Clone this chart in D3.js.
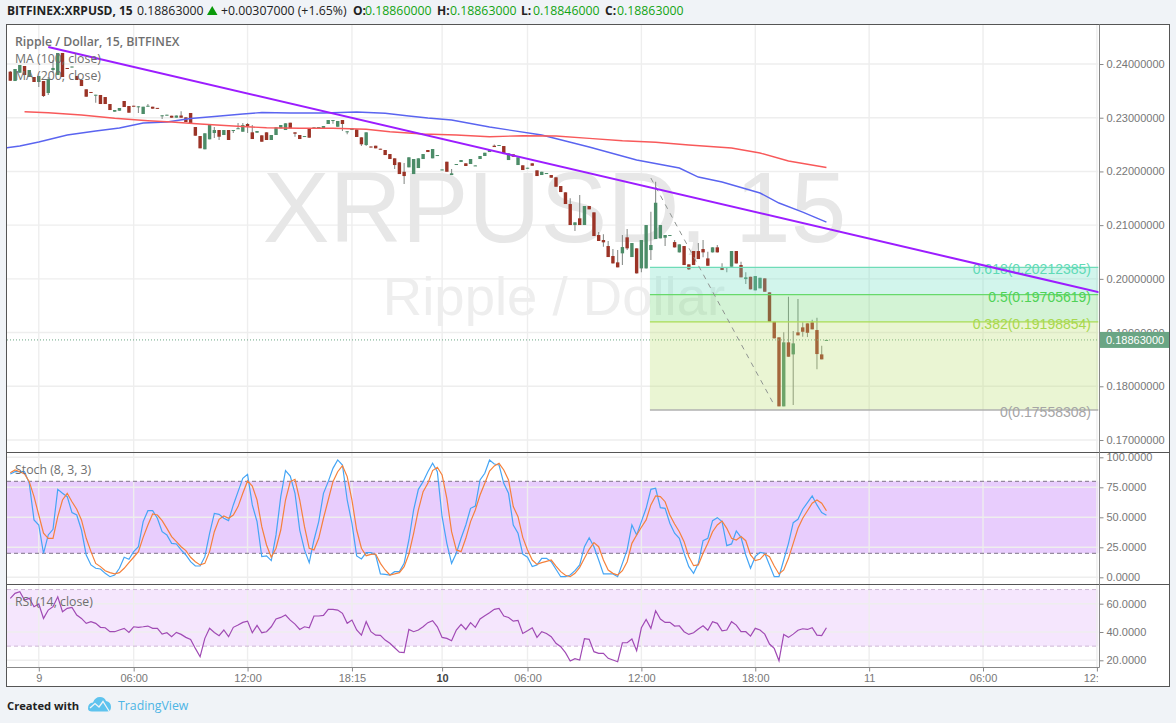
<!DOCTYPE html>
<html>
<head>
<meta charset="utf-8">
<script src="https://cdn.jsdelivr.net/npm/d3@7/dist/d3.min.js"></script>
<style>
html,body{margin:0;padding:0;background:#f0f3f7;overflow:hidden}
svg{display:block}
.ui{font-family:"Open Sans",sans-serif}
.ax{font-family:"Liberation Sans",Arial,sans-serif;font-size:11px;fill:#777}
</style>
</head>
<body>
<svg id="c" width="1176" height="723"></svg>
<script>
const opens=[.23857,.23683,.23838,.23963,.23758,.23758,.23665,.23683,.23460,.23888,.23795,.24205,.23926,.23935,.23777,.23702,.23529,.23479,.23413,.23423,.23385,.23255,.23112,.23130,.23311,.23218,.23223,.23199,.23069,.23210,.23205,.23183,.23032,.23043,.23037,.23000,.23041,.23007,.23088,.22827,
.22659,.22412,.22598,.22715,.22771,.22678,.22771,.22756,.22790,.22739,.22883,.22728,.22721,.22672,.22728,.22585,.22678,.22803,.22771,.22907,
.22728,.22678,.22644,.22790,.22803,.22803,.22803,.22883,.22942,.22832,.22957,.22728,.22771,.22784,.22635,.22492,.22464,.22479,.22423,.22399,
.22324,.22244,.22169,.21994,.22076,.21951,.22063,.22231,.22399,.22244,.22290,.22024,.22181,.21933,.22125,.22175,.22151,.22138,.22099,.22231,
.22287,.22361,.22479,.22479,.22473,.22212,.22318,.22119,.22114,.22056,.22151,.22020,.21933,.21957,.21933,.21890,.21728,.21611,.21393,.21002,
.21127,.21002,.21356,.21238,.20816,.20723,.20611,.20425,.20307,.20475,.20773,.20406,.20568,.20195,.20195,.20536,.20741,.20754,.20766,.20803,
.20685,.20493,.20611,.20270,.20518,.20518,.20555,.20381,.20493,.20587,.20220,.20207,.20225,.20518,.20257,.19996,.20039,.19786,.19823,.20009,
.19749,.19201,.18911,.17626,.18818,.18594,.19004,.19097,.19171,.19190,.19047,.18594,.18860];
const closes=[.23689,.23907,.23981,.23795,.23888,.23665,.23777,.23404,.23721,.23926,.24205,.23758,.23907,.23953,.23702,.23590,.23391,.23464,.23428,.23255,.23255,.23143,.23143,.23181,.23199,.23093,.23209,.23212,.23205,.23223,.23168,.23167,.23045,.23056,.23000,.23041,.23000,.22920,.22901,.22665,
.22430,.22710,.22864,.22771,.22646,.22771,.22585,.22771,.22804,.22864,.22845,.22603,.22752,.22553,.22585,.22678,.22821,.22864,.22896,.22803,
.22702,.22603,.22659,.22628,.22821,.22827,.22845,.22957,.22957,.22939,.22883,.22747,.22803,.22641,.22505,.22728,.22445,.22430,.22408,.22305,
.22231,.22119,.21951,.21914,.22263,.22231,.22244,.22324,.22361,.22417,.22305,.22037,.21994,.21965,.22138,.22212,.22101,.22231,.22112,.22287,
.22348,.22399,.22454,.22492,.22324,.22337,.22274,.22263,.22026,.22069,.22106,.21914,.21994,.21970,.21883,.21715,.21616,.21393,.21002,.21052,
.21002,.21356,.21294,.20797,.20705,.20680,.20406,.20288,.20214,.20592,.20568,.20667,.20102,.20723,.21002,.20630,.21417,.21002,.20816,.20816,
.20586,.20642,.20257,.20177,.20257,.20369,.20493,.20244,.20587,.20493,.20164,.20220,.20518,.20287,.20028,.20028,.19805,.20052,.20020,.19760,
.19201,.18892,.17626,.18818,.18550,.18799,.18948,.19015,.18996,.19060,.18600,.18501,.18863];
const highs=[.23870,.23907,.23981,.23963,.23888,.23758,.23777,.23683,.23758,.24074,.24205,.24205,.23926,.23953,.23777,.23702,.23529,.23479,.23428,.23423,.23385,.23255,.23143,.23181,.23311,.23218,.23223,.23212,.23205,.23255,.23205,.23183,.23045,.23056,.23037,.23041,.23119,.23007,.23088,.22827,
.22659,.22710,.22864,.22827,.22771,.22771,.22771,.22771,.22901,.22901,.22901,.22864,.22752,.22672,.22728,.22678,.22821,.22864,.22896,.22907,
.22728,.22678,.22659,.22790,.22821,.22827,.22845,.22957,.22957,.22939,.22957,.22747,.22803,.22784,.22635,.22728,.22464,.22479,.22423,.22399,
.22324,.22244,.22169,.22156,.22263,.22231,.22244,.22324,.22399,.22417,.22305,.22037,.22181,.22045,.22138,.22212,.22151,.22231,.22112,.22287,
.22348,.22399,.22501,.22492,.22473,.22337,.22318,.22263,.22114,.22069,.22151,.22020,.21994,.21970,.21933,.21890,.21728,.21611,.21499,.21052,
.21560,.21356,.21356,.21238,.20872,.20829,.20704,.20555,.20536,.20816,.20927,.20667,.20568,.20723,.21002,.21250,.21808,.21002,.20816,.20816,
.20723,.20642,.20611,.20270,.20518,.20667,.20723,.20505,.20587,.20630,.20289,.20220,.20518,.20518,.20318,.20121,.20039,.20052,.20020,.20009,
.19749,.19201,.18911,.19004,.19667,.19028,.19623,.19190,.19171,.19240,.19276,.18754,.18863];
const lows=[.23684,.23683,.23838,.23795,.23758,.23665,.23572,.23385,.23423,.23832,.23795,.23758,.23907,.23935,.23702,.23590,.23391,.23464,.23279,.23255,.23255,.23143,.23112,.23130,.23199,.23093,.23209,.23088,.23069,.23210,.23168,.23167,.22976,.23043,.23000,.23000,.23000,.22920,.22883,.22665,
.22430,.22412,.22598,.22622,.22585,.22678,.22585,.22715,.22790,.22739,.22715,.22603,.22721,.22553,.22585,.22585,.22678,.22803,.22771,.22803,
.22646,.22603,.22644,.22628,.22803,.22803,.22803,.22883,.22888,.22832,.22752,.22691,.22771,.22641,.22473,.22473,.22445,.22430,.22408,.22305,
.22231,.22045,.21951,.21765,.22076,.21951,.22063,.22231,.22361,.22244,.22290,.22024,.21994,.21933,.22125,.22175,.22101,.22138,.22099,.22231,
.22287,.22361,.22454,.22479,.22324,.22212,.22274,.22119,.22026,.22056,.22106,.21914,.21933,.21957,.21883,.21715,.21616,.21393,.21002,.20890,
.21002,.21002,.21294,.20797,.20705,.20598,.20406,.20288,.20214,.20257,.20536,.20406,.20102,.20121,.20195,.20350,.20741,.20754,.20611,.20803,
.20586,.20493,.20257,.20164,.20257,.20369,.20400,.20244,.20493,.20493,.20164,.20121,.20225,.20287,.20028,.19903,.19805,.19786,.19823,.19760,
.19201,.18892,.17626,.17626,.18550,.17650,.18948,.18922,.18916,.19060,.18315,.18501,.18846];

const ma100Bars=[-1,2,6,12,18,23,28,33,38,43,49,53,59,66,73,79,84,88,93,101,112,122,132,141,145,150,158,162,167,170,172];
const ma100=[.22436,.22473,.22547,.22678,.22752,.22808,.22901,.22920,.22985,.23022,.23069,.23097,.23088,.23088,.23106,.23082,.23032,.22994,.22957,.22827,.22678,.22454,.22212,.22063,.21896,.21803,.21598,.21412,.21244,.21132,.21058];
const ma200Bars=[3,8,15,22,29,34,40,47,54,61,68,75,80,87,94,101,108,115,122,129,136,143,152,158,164,172];
const ma200=[.23112,.23093,.23050,.22989,.22944,.22920,.22883,.22845,.22814,.22803,.22803,.22784,.22739,.22696,.22678,.22646,.22665,.22659,.22616,.22572,.22542,.22492,.22436,.22343,.22194,.22073];

const stochK=[86.1,88,88,88,78.3,47.8,43.6,20,35.3,40,73.3,70,67.2,53.9,51.9,39.4,18.6,10.3,7.5,6.9,3.3,.5,1.9,7.5,16.7,15,21.4,25.5,46.4,55.5,55.5,49.2,38,35.3,28.3,27.8,22.8,18.6,13,9.4,9.4,17.2,36.7,53.3,52.5,49.2,47.2,60.3,71.4,82.5,85.8,60.3,46.4,17.2,17.8,13.9,35.3,67.2,88.9,84.4,70,39.4,22.8,12.2,31.1,46.4,70,79.7,90.8,97.8,93.6,64.4,45,17.8,15.3,20.5,20.5,18.6,2.8,2.5,1.9,4.7,4.7,11.6,31.1,56.1,73.3,79.7,88,95,88,50.5,28.3,11.6,20,32.5,43.6,57.5,59.4,81.1,86.7,97.8,94.4,93.6,78.3,70,43.6,36.7,19.4,16.7,8.9,10.3,15.8,15.8,13,6.7,.5,.5,1.9,5.5,10.3,25.5,33,25.5,14.4,2.8,2.8,2.8,.5,11.6,22.8,43.6,35.3,46.4,57.5,73.3,74.2,58,57.5,45,36.7,32.5,20,8.9,3.3,11.6,30.5,32.5,47.2,49.7,46.4,26.4,27.8,38.6,33.3,18.6,7.5,17.2,20.8,20,10.3,.5,.5,14.4,28.3,45.5,48.3,56.7,62.2,67.8,60.3,53.9,51.7];
const stochD=[87.2,89.4,88,86.1,79.7,67.2,51.9,36.7,32.5,32.5,50.5,64.4,70,63,56.7,47.8,32.5,21.4,11.6,8.9,5.5,3.9,2.8,3.9,7.5,12.2,16.7,21.4,33.3,43.6,52.8,51.9,47.2,40.8,33.9,29.7,25.5,22.2,16.7,13,10.3,11.6,21.4,38,48.3,51.1,49.2,51.9,58.9,70,80.3,76.1,64.4,42.2,26.9,16.7,24.2,39.4,64.4,79.7,81.7,64.4,42.2,24.2,22.8,32.5,49.2,64.4,79.7,88,93,83.9,64.4,39.4,24.2,18,19.1,19.4,11.6,6.1,1.9,2.8,3.9,8.9,19.4,36.7,56.1,71.4,78.3,88.9,91.7,85.3,65.8,38,22.8,21.4,32.5,46.4,56.1,68.6,78.3,88.6,92.8,95,89.4,81.1,58.9,50.5,33.3,22.8,14.4,10.8,12.2,13.3,14.4,9.4,4.7,1.7,.5,3.3,8.3,15.8,23.3,28.9,25.5,14.4,6.1,3.3,1.9,5.5,13,28.3,35.3,41.7,47.8,60.3,67.8,67.2,63,51.9,44.4,38,29.7,17.2,9.7,10.3,20,28.3,38,43.6,46.9,40.8,32.5,31.1,33.9,30.5,18.6,13.9,15,19.4,17.2,9.4,2.8,6.1,15.8,28.3,40.8,49.2,55.5,61.7,64.4,61.7,55.5];
const rsi=[63.8,67.3,68.5,62.6,63.8,57.9,59.8,49.6,55.5,57.9,64.9,54.3,56.7,57.4,52,49.6,46.1,47.3,46.1,43.3,43,40.2,40.2,41.4,42.6,39.7,43.7,43.3,43.7,44.2,42.6,42.6,38.5,39.5,36.7,39.7,38.3,36.2,34.8,28.4,22.5,35.5,42.6,39.7,37.4,41.4,36.7,43.3,44.9,46.8,47.7,39.5,44.7,39.5,40.2,43.7,49.2,50.3,52,48.4,45.6,41.8,43.7,43,51.3,51.3,51.7,56,56,55.5,53.2,46.1,48.4,41.4,37.8,47.3,40.2,37.8,37.6,34.3,32,28.9,25.8,25.4,41.8,40.2,41.4,43.7,46.6,48,43.7,36.2,35.5,33.8,41.4,45.4,41.8,46.6,43.3,49.2,51.5,53.6,56,56.7,51.3,50.3,47.7,48.2,39,40.9,43,36.2,40.2,39,36.7,32,29.6,25.4,19.5,21.1,20.2,35.3,34.8,26.1,24.9,24.9,21.4,20.2,19,32.4,32.4,35,26.8,43,48.9,42.6,55,49.2,46.8,46.8,44.2,44.4,40.2,38.3,39.5,42.1,44.4,41.2,47.3,46.1,40.9,41.4,47.3,44.9,40.2,40.2,37.1,42.6,41.4,38.5,31.5,28.4,19.7,38.3,36.2,38.5,41.2,42.3,41.8,43,37.8,37.4,43];

const priceTicks=[.24,.23,.22,.21,.20,.19,.18,.17];
const stochTicks=[100,75,50,25,0];
const rsiTicks=[60,40,20];
const timeBars=[6,26,50,72,91,109,133,157,181,205,229];
const timeLabels=["9","06:00","12:00","18:15","10","06:00","12:00","18:00","11","06:00","12:00"];
const boldTimes=["10"];
const fibLevels=[0,.382,.5,.618];
const fibPrices=[.17558308,.19198854,.19705619,.20212385];
const fibLine=["#b0b0b0","#a9dc54","#67d96b","#6fdcb8"];
const fibFill=["#b9de6c","#b9de6c","#6cd773","#69dec0"];
const fibText=["#a5a5a5","#a8d84e","#4fd257","#5fdab6"];
const fibStartBar=134.8;
const trendBars=[8,230];
const trendPrices=[.24317,.19739];
const dashBars=[135,161];
const dashPrices=[.21877,.17650];
const lastPrice=.18863;

const svg=d3.select("#c");
const defs=svg.append("defs");
const paneL=7,paneR=1098.5;
function clip(id,t,b){defs.append("clipPath").attr("id",id).append("rect").attr("x",paneL).attr("y",t).attr("width",paneR-paneL).attr("height",b-t);}
clip("cMain",25,452);clip("cSt",453,584);clip("cRsi",585,667);clip("cTime",667,687);

const x=d3.scaleLinear().domain([0,229]).range([10.3,10.3+4.745*229]);
const y=d3.scaleLinear().domain([.24,.17]).range([64,440]);
const yS=d3.scaleLinear().domain([100,0]).range([457.3,577.3]);
const yR=d3.scaleLinear().domain([60,20]).range([603.7,660.3]);

// frame
svg.append("rect").attr("x",6.5).attr("y",24.5).attr("width",1163).attr("height",662).attr("fill","#fff").attr("stroke","#555");

const main=svg.append("g").attr("clip-path","url(#cMain)");
const gridC="#eeeeee";
function hgrid(g,sc,vals){g.selectAll(null).data(vals).join("line").attr("x1",paneL).attr("x2",paneR).attr("y1",d=>sc(d)).attr("y2",d=>sc(d)).attr("stroke",gridC).attr("stroke-width",1.4);}
function vgrid(g,t,b){g.selectAll(null).data(timeBars).join("line").attr("x1",d=>x(d)).attr("x2",d=>x(d)).attr("y1",t).attr("y2",b).attr("stroke",gridC).attr("stroke-width",1.4);}
hgrid(main,y,priceTicks);vgrid(main,25,452);

// watermark
main.append("text").attr("x",554.5).attr("y",242).attr("text-anchor","middle")
 .attr("font-family","Liberation Sans").attr("font-size",100).attr("fill","#e7e7e7").text("XRPUSD, 15");
main.append("text").attr("x",554).attr("y",315).attr("text-anchor","middle")
 .attr("font-family","Liberation Sans").attr("font-size",54.5).attr("fill","#eeeeee").text("Ripple / Dollar");

// candles
const bars=d3.range(opens.length);
const green="#4c8c68",red="#9b3326";
main.selectAll(".wick").data(bars).join("line").attr("class","wick")
 .attr("x1",i=>x(i)).attr("x2",i=>x(i)).attr("y1",i=>y(highs[i])).attr("y2",i=>y(lows[i]))
 .attr("stroke","#8b8f8c").attr("stroke-width",1.1);
main.selectAll(".body").data(bars).join("rect").attr("class","body")
 .attr("x",i=>x(i)-1.7).attr("width",3.4)
 .attr("y",i=>y(Math.max(opens[i],closes[i])))
 .attr("height",i=>Math.max(1,Math.abs(y(opens[i])-y(closes[i]))))
 .attr("fill",i=>closes[i]>=opens[i]?green:red);

// MAs
const lineM=(xs,ys)=>d3.line().x((d,i)=>x(xs[i])).y(d=>y(d))(ys);
main.append("path").attr("d",lineM(ma100Bars,ma100)).attr("fill","none").attr("stroke","#5a64f0").attr("stroke-width",1.4);
main.append("path").attr("d",lineM(ma200Bars,ma200)).attr("fill","none").attr("stroke","#f8595a").attr("stroke-width",1.4);

// last price dotted
main.append("line").attr("x1",paneL).attr("x2",paneR).attr("y1",y(lastPrice)).attr("y2",y(lastPrice))
 .attr("stroke","#6aa584").attr("stroke-dasharray","1 2");

// Fib
fibPrices.forEach((p,k)=>{
  const x0=x(fibStartBar);
  if(k>0){
    const yTop=y(p),yBot=y(fibPrices[k-1]);
    main.append("rect").attr("x",x0).attr("width",paneR-x0).attr("y",yTop).attr("height",yBot-yTop)
      .attr("fill",fibFill[k]).attr("fill-opacity",.3);
  }
});
fibPrices.forEach((p,k)=>{
  main.append("line").attr("x1",x(fibStartBar)).attr("x2",paneR).attr("y1",y(p)).attr("y2",y(p)).attr("stroke",fibLine[k]).attr("stroke-width",1.3);
});
fibPrices.forEach((p,k)=>{
  main.append("text").attr("x",1091).attr("y",y(p)+7).attr("text-anchor","end")
   .attr("font-family","Liberation Sans").attr("font-size",14).attr("fill",fibText[k])
   .text(fibLevels[k]+"("+p.toFixed(8)+")");
});
main.append("path").attr("d",lineM(dashBars,dashPrices)).attr("fill","none").attr("stroke","#8f9491").attr("stroke-dasharray","5 5");
main.append("path").attr("d",lineM(trendBars,trendPrices)).attr("fill","none").attr("stroke","#9c1dff").attr("stroke-width",2);

// Stoch pane
const st=svg.append("g").attr("clip-path","url(#cSt)");
st.append("rect").attr("x",paneL).attr("width",paneR-paneL).attr("y",yS(80)).attr("height",yS(20)-yS(80)).attr("fill","#e8cdfd");
hgrid(st,yS,stochTicks);vgrid(st,453,584);
st.selectAll(".sb").data([80,20]).join("line").attr("x1",paneL).attr("x2",paneR).attr("y1",d=>yS(d)).attr("y2",d=>yS(d)).attr("stroke","#7f7488").attr("stroke-dasharray","4 3");
const lineS=d3.line().x((d,i)=>x(i)).y(d=>yS(d));
st.append("path").attr("d",lineS(stochK)).attr("fill","none").attr("stroke","#45a5f5").attr("stroke-width",1.2);
st.append("path").attr("d",lineS(stochD)).attr("fill","none").attr("stroke","#f5813c").attr("stroke-width",1.2);

// RSI pane
const rs=svg.append("g").attr("clip-path","url(#cRsi)");
rs.append("rect").attr("x",paneL).attr("width",paneR-paneL).attr("y",yR(70)).attr("height",yR(30)-yR(70)).attr("fill","#f5e6fd");
hgrid(rs,yR,rsiTicks);vgrid(rs,585,667);
rs.selectAll(".rb").data([70,30]).join("line").attr("x1",paneL).attr("x2",paneR).attr("y1",d=>yR(d)).attr("y2",d=>yR(d)).attr("stroke","#cdb6d6").attr("stroke-dasharray","4 3");
rs.append("path").attr("d",d3.line().x((d,i)=>x(i)).y(d=>yR(d))(rsi)).attr("fill","none").attr("stroke","#a04ab4").attr("stroke-width",1.2);

// legend
const leg=svg.append("g").attr("class","ui").attr("fill","#6f6f6f").attr("font-size",12.3);
leg.append("text").attr("x",15).attr("y",46).attr("font-weight",600).text("Ripple / Dollar, 15, BITFINEX");
leg.append("text").attr("x",15).attr("y",63).text("MA (100, close)");
leg.append("text").attr("x",15).attr("y",80).text("MA (200, close)");
leg.append("text").attr("x",15).attr("y",474).text("Stoch (8, 3, 3)");
leg.append("text").attr("x",15).attr("y",606).text("RSI (14, close)");

// Separators
[[6.5,1169.5,452.5,452.5,"#555"],[6.5,1169.5,584.5,584.5,"#555"],[6.5,1099.5,667.5,667.5,"#888"],[1099.5,1099.5,24.5,667.5,"#888"]]
 .forEach(a=>svg.append("line").attr("x1",a[0]).attr("x2",a[1]).attr("y1",a[2]).attr("y2",a[3]).attr("stroke",a[4]));

// Axes
function styleAxis(g){
  g.select(".domain").remove();
  g.selectAll(".tick line").attr("stroke","#888");
  g.selectAll(".tick text").attr("class","ax").attr("fill",null);
}
const axP=d3.axisRight(y).tickValues(priceTicks).tickSize(4).tickPadding(3).tickFormat(d=>d.toFixed(8));
svg.append("g").attr("transform","translate(1099.5,0)").call(axP).call(styleAxis);
const axS=d3.axisRight(yS).tickValues(stochTicks).tickSize(4).tickPadding(3).tickFormat(d=>d.toFixed(4));
svg.append("g").attr("transform","translate(1099.5,0)").call(axS).call(styleAxis);
const axR=d3.axisRight(yR).tickValues(rsiTicks).tickSize(4).tickPadding(3).tickFormat(d=>d.toFixed(4));
svg.append("g").attr("transform","translate(1099.5,0)").call(axR).call(styleAxis);
const axT=d3.axisBottom(x).tickValues(timeBars).tickSize(4).tickPadding(3).tickFormat(d=>timeLabels[timeBars.indexOf(d)]);
svg.append("g").attr("clip-path","url(#cTime)").append("g").attr("transform","translate(0,667.5)").call(axT).call(styleAxis)
  .selectAll(".tick text")
  .style("font-weight",d=>boldTimes.includes(timeLabels[timeBars.indexOf(d)])?"bold":null)
  .style("fill",d=>boldTimes.includes(timeLabels[timeBars.indexOf(d)])?"#444":null);

// Last price label
svg.append("rect").attr("x",1100).attr("y",y(lastPrice)-8).attr("width",69).attr("height",16).attr("fill","#6aa584");
svg.append("text").attr("class","ax").attr("x",1106).attr("y",y(lastPrice)+4).style("fill","#fff").text(lastPrice.toFixed(8));

// Header
const hdr=svg.append("g").attr("class","ui").attr("font-size",12.3).attr("fill","#222");
hdr.append("text").attr("x",7).attr("y",15).attr("font-size",12).attr("font-weight",700).text("BITFINEX:XRPUSD, 15");
hdr.append("text").attr("x",137).attr("y",15).text("0.18863000");
hdr.append("path").attr("d",d3.line()([[207,15],[217.5,15],[212.2,6]])+"Z").attr("fill","#0a9a0a");
hdr.append("text").attr("x",221).attr("y",15).text("+0.00307000 (+1.65%)");
const ohlcLabels=["O:","H:","L:","C:"];
const ohlcValues=["0.18860000","0.18863000","0.18846000","0.18863000"];
const ohlcLabelX=[353,437,521,605];
const ohlcValueX=[365,450,533,617];
ohlcLabels.forEach((l,k)=>{
  hdr.append("text").attr("x",ohlcLabelX[k]).attr("y",15).attr("font-weight",700).attr("font-size",12).text(l);
  hdr.append("text").attr("x",ohlcValueX[k]).attr("y",15).attr("fill","#13a313").text(ohlcValues[k]);
});

// Footer
svg.append("text").attr("class","ui").attr("x",7).attr("y",709.5).attr("font-size",11.2).attr("font-weight",700).attr("fill","#222").text("Created with");
const logo=svg.append("g");
logo.append("path").attr("d","M88 708.5 Q88 703 93 702.5 Q95 697 100 697 Q104.5 697 106 701 Q111 702 111 707 Q111 711.5 107 711.5 L92 711.5 Q88 711.5 88 708.5 Z").attr("fill","#5ec3ee");
logo.append("path").attr("d","M90 708 L95 703.5 L99 707 L103 701.5 L109 711").attr("fill","none").attr("stroke","#f0f3f7").attr("stroke-width",1.3);
svg.append("text").attr("class","ui").attr("x",118).attr("y",710).attr("font-size",12.3).attr("fill","#4db5e5").text("TradingView");
</script>
</body>
</html>
